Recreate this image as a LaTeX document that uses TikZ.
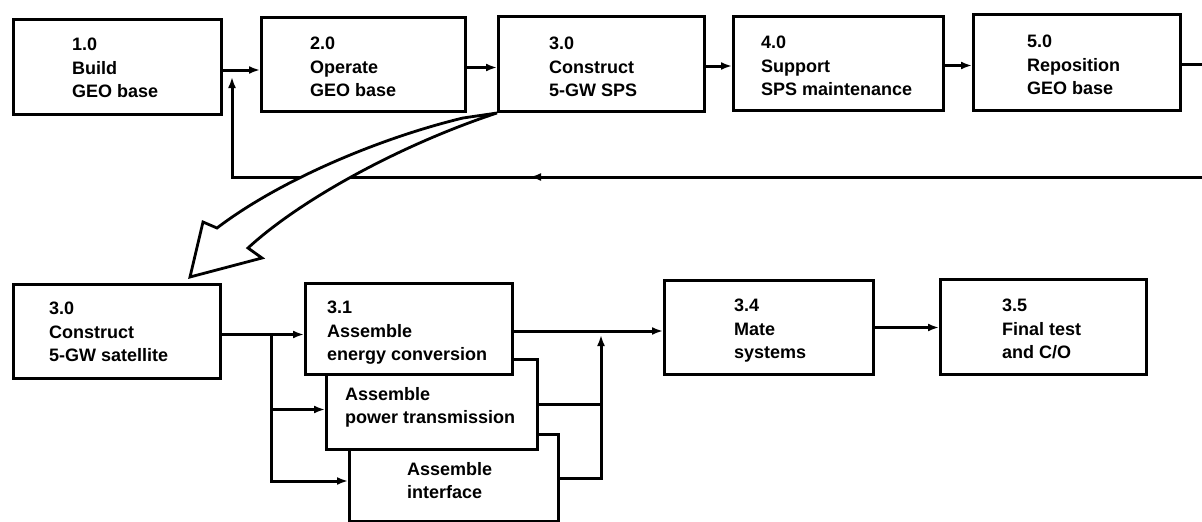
\documentclass[tikz,border=0pt]{standalone}
\usepackage{fontspec}
\setmainfont{Liberation Sans}
\usetikzlibrary{arrows.meta,calc}
\begin{document}
\begin{tikzpicture}[x=1pt,y=-1pt,
  box/.style={draw, fill=white, line width=3pt, anchor=north west, inner sep=0pt},
  lbl/.style={anchor=north west, align=left, inner sep=0pt, font=\fontsize{18}{23.6}\selectfont\bfseries},
  line/.style={line width=3pt},
  arr/.style={line width=3pt, -{Latex[length=11pt,width=8pt]}},
  hollow/.style={draw, fill=white, line width=2.8pt, line join=miter},
]
\useasboundingbox (0,0) rectangle (1202,522);

% free ends and junction coordinates
\coordinate (outR) at (1202,0);
\coordinate (fbR) at (1202,177);
\coordinate (fbm) at (530,177);
\coordinate (fbL) at (232,177);
\coordinate (sx) at (271,0);
\coordinate (mx) at (601,0);

% top row
\node[box, minimum width=208pt, minimum height=95pt] (b1) at (12,18) {};
\node[box, minimum width=204pt, minimum height=94pt] (b2) at (260,16) {};
\node[box, minimum width=206pt, minimum height=95pt] (b3) at (497,15) {};
\node[box, minimum width=210pt, minimum height=94pt] (b4) at (732,15) {};
\node[box, minimum width=207pt, minimum height=96pt] (b5) at (972,13) {};

\node[lbl] (t1) at (72,38) {1.0\\Build\\GEO base};
\node[lbl] (t2) at (310,37) {2.0\\Operate\\GEO base};
\node[lbl] (t3) at (549,37) {3.0\\Construct\\5-GW SPS};
\node[lbl] (t4) at (761,36) {4.0\\Support\\SPS maintenance};
\node[lbl] (t5) at (1027,35) {5.0\\Reposition\\GEO base};

\draw[arr] ([yshift=-3pt]b1.east) -- ([yshift=-3pt]b1.east -| b2.west);
\draw[arr] ([yshift=-3pt]b2.east) -- ([yshift=-3pt]b2.east -| b3.west);
\draw[arr] ([yshift=-2pt]b3.east) -- ([yshift=-2pt]b3.east -| b4.west);
\draw[arr] ([yshift=-2pt]b4.east) -- ([yshift=-2pt]b4.east -| b5.west);
\draw[line] ([yshift=-2pt]b5.east) -- ([yshift=-2pt]b5.east -| outR);

% feedback loop
\draw[arr, shorten >=7pt] (fbR) -- (fbL) -- ([yshift=-3pt]fbL |- b1.east);
\draw[arr] (fbR) -- (fbm);

% hollow curved arrow from 3.0 down to the detailed row
\draw[hollow] (b3.south west) -- (463,118)
  .. controls (380,138) and (280,180) .. (217,228)
  -- (203,222) -- (190,277) -- (262,258) -- (248,248)
  .. controls (300,200) and (400,145) .. (b3.south west) -- cycle;

% bottom row
\node[box, minimum width=207pt, minimum height=94pt] (b30) at (12,283) {};
\node[box, minimum width=209pt, minimum height=87pt] (bif) at (348,433) {};
\node[box, minimum width=211pt, minimum height=90pt] (bpt) at (325,358) {};
\node[box, minimum width=207pt, minimum height=91pt] (b31) at (304,282) {};
\node[box, minimum width=209pt, minimum height=94pt] (b34) at (663,279) {};
\node[box, minimum width=206pt, minimum height=95pt] (b35) at (939,278) {};

\node[lbl] (t30) at (49,302) {3.0\\Construct\\5-GW satellite};
\node[lbl] (t31) at (327,301) {3.1\\Assemble\\energy conversion};
\node[lbl] (tpt) at (345,387) {Assemble\\power transmission};
\node[lbl] (tif) at (407,462) {Assemble\\interface};
\node[lbl] (t34) at (734,299) {3.4\\Mate\\systems};
\node[lbl] (t35) at (1002,299) {3.5\\Final test\\and C/O};

\draw[arr] ([yshift=-3pt]b30.east) -- ([yshift=-3pt]b30.east -| b31.west);
\draw[arr] ([yshift=-3pt]sx |- b30.east) |- ([yshift=-5pt]bpt.west);
\draw[arr] ([yshift=-3pt]sx |- b30.east) |- ([yshift=-3pt]bif.west);
\draw[line] (bpt.east) -- (mx |- bpt.east);
\draw[arr, shorten >=4pt] (bif.east) -| ([yshift=-2pt]mx |- b31.east);
\draw[arr] ([yshift=-2pt]b31.east) -- ([yshift=-2pt]b31.east -| b34.west);
\draw[arr] (b34.east) -- (b34.east -| b35.west);
\end{tikzpicture}
\end{document}
